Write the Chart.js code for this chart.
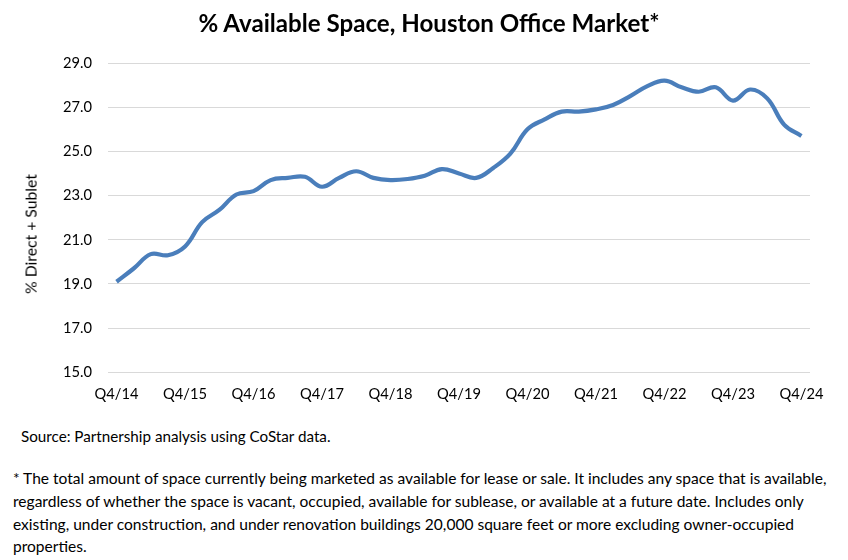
<!DOCTYPE html>
<html>
<head>
<meta charset="utf-8">
<script src="https://cdn.jsdelivr.net/npm/chart.js@4/dist/chart.umd.min.js"></script>
<style>
  html, body { margin: 0; padding: 0; background: #fff; }
  body { width: 848px; height: 560px; position: relative; overflow: hidden; font-family: Lato, "Open Sans", sans-serif; color: #000; }
  #wrap { position: absolute; left: 0; top: 0; width: 848px; height: 424px; }
  .txt { position: absolute; white-space: nowrap; }
  #title { left: 0; width: 858px; top: 8px; text-align: center; font-weight: bold; }
  #ytitle { left: 31px; top: 234px; transform: translate(-50%, -50%) rotate(-90deg); line-height: 1.2; }
  #source { left: 21px; top: 427px; }
  #note { left: 13px; top: 467px; }
  #note div { height: 22.8px; line-height: 22.8px; white-space: nowrap; }
</style>
</head>
<body>
<div id="wrap"><canvas id="c" width="848" height="424"></canvas></div>
<div id="title" class="txt"></div>
<div id="ytitle" class="txt"></div>
<div id="source" class="txt"></div>
<div id="note" class="txt"></div>
<script>
const quarters = [
  "Q4/14","Q1/15","Q2/15","Q3/15","Q4/15","Q1/16","Q2/16","Q3/16","Q4/16",
  "Q1/17","Q2/17","Q3/17","Q4/17","Q1/18","Q2/18","Q3/18","Q4/18",
  "Q1/19","Q2/19","Q3/19","Q4/19","Q1/20","Q2/20","Q3/20","Q4/20",
  "Q1/21","Q2/21","Q3/21","Q4/21","Q1/22","Q2/22","Q3/22","Q4/22",
  "Q1/23","Q2/23","Q3/23","Q4/23","Q1/24","Q2/24","Q3/24","Q4/24"
];
const availablePct = [
  19.1, 19.7, 20.35, 20.3, 20.7, 21.8, 22.35, 23.05, 23.2,
  23.7, 23.8, 23.85, 23.4, 23.8, 24.1, 23.8, 23.7,
  23.75, 23.9, 24.2, 24.0, 23.8, 24.25, 24.9, 26.0,
  26.45, 26.8, 26.8, 26.9, 27.1, 27.5, 27.95, 28.2,
  27.9, 27.7, 27.9, 27.3, 27.8, 27.4, 26.2, 25.7
];
const yTicks = [15, 17, 19, 21, 23, 25, 27, 29];
const titleText = "% Available Space, Houston Office Market*";
const yAxisTitle = "% Direct + Sublet";
const sourceText = "Source: Partnership analysis using CoStar data.";
const noteLines = [
  "* The total amount of space currently being marketed as available for lease or sale. It includes any space that is available,",
  "regardless of whether the space is vacant, occupied, available for sublease, or available at a future date. Includes only",
  "existing, under construction, and under renovation buildings 20,000 square feet or more excluding owner-occupied",
  "properties."
];

const FAMILY = "Lato, 'Open Sans', sans-serif";
const mctx = document.createElement('canvas').getContext('2d');
function fitSize(text, weight, target) {
  mctx.font = weight + " 100px " + FAMILY;
  return 100 * target / mctx.measureText(text).width;
}

const titleSize = fitSize(titleText, "bold", 462);
const tickSize = fitSize("Q4/14", "normal", 44);
const yTitleSize = fitSize(yAxisTitle, "normal", 120);
const sourceSize = fitSize(sourceText, "normal", 310);
const noteSize = fitSize(noteLines[0], "normal", 816);

const t = document.getElementById('title');
t.textContent = titleText; t.style.fontSize = titleSize + "px";
const yt = document.getElementById('ytitle');
yt.textContent = yAxisTitle; yt.style.fontSize = yTitleSize + "px";
const s = document.getElementById('source');
s.textContent = sourceText; s.style.fontSize = sourceSize + "px";
const n = document.getElementById('note');
n.style.fontSize = noteSize + "px";
noteLines.forEach(l => { const d = document.createElement('div'); d.textContent = l; n.appendChild(d); });

new Chart(document.getElementById('c'), {
  type: 'line',
  data: {
    labels: quarters,
    datasets: [{
      data: availablePct,
      borderColor: '#4a7ebb',
      borderWidth: 4.2,
      pointRadius: 0,
      tension: 0.4,
      fill: false
    }]
  },
  options: {
    responsive: false,
    animation: false,
    layout: { padding: { left: 63, right: 38, top: 63, bottom: 8 } },
    plugins: {
      legend: { display: false },
      tooltip: { enabled: false },
      title: { display: false }
    },
    scales: {
      x: {
        offset: true,
        grid: { display: false, drawTicks: false },
        border: { display: false },
        ticks: {
          autoSkip: false,
          maxRotation: 0,
          color: '#000',
          padding: 13,
          font: { family: FAMILY, size: tickSize },
          callback: function(v, i) { return i % 4 === 0 ? quarters[i] : ''; }
        }
      },
      y: {
        min: 15, max: 29,
        afterBuildTicks: function(ax) { ax.ticks = yTicks.map(v => ({ value: v })); },
        afterFit: function(ax) { ax.width = 45; },
        grid: { color: '#d9d9d9', lineWidth: 1, drawTicks: false },
        border: { display: false },
        ticks: {
          color: '#000',
          padding: 16,
          font: { family: FAMILY, size: tickSize },
          callback: function(v) { return Number(v).toFixed(1); }
        }
      }
    }
  }
});
</script>
</body>
</html>
